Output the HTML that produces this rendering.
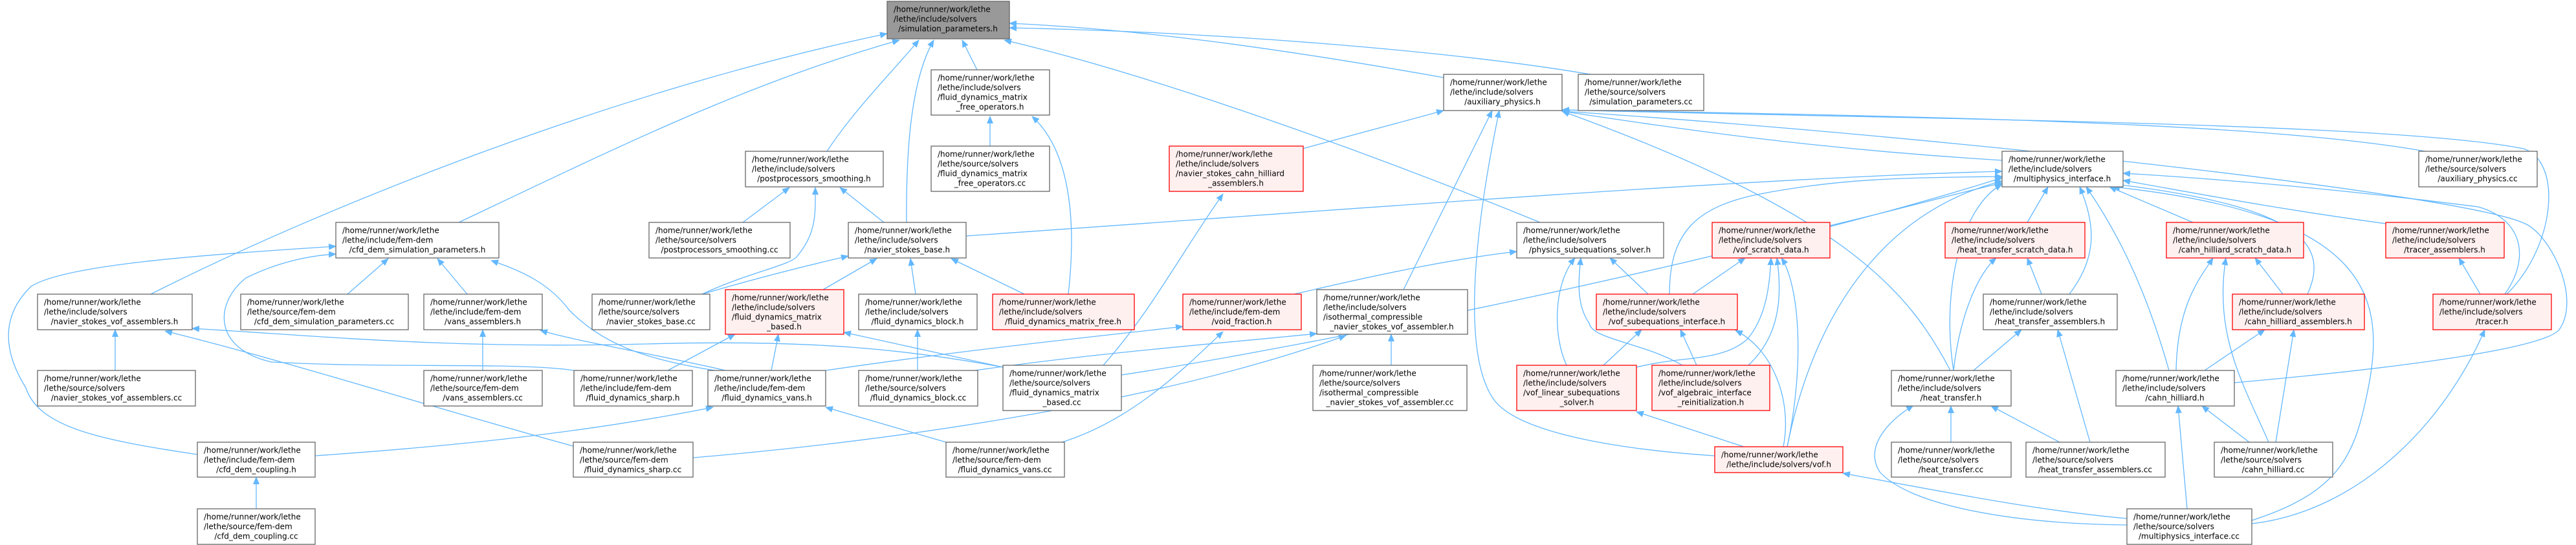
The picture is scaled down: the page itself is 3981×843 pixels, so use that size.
<!DOCTYPE html>
<html><head><meta charset="utf-8"><style>
html,body{margin:0;padding:0;background:#fff;}
svg{display:block;}
text{font-family:"DejaVu Sans","Liberation Sans",sans-serif;font-size:12px;fill:#000;transform:translateY(-1.5px);}
.n{fill:#fff;stroke:#666;stroke-width:1.3;}
.r{fill:#fff0f0;stroke:#ff0000;stroke-width:1.3;}
.g{fill:#999;stroke:#666;stroke-width:1.3;}
.e{fill:none;stroke:#63b8ff;stroke-width:1.3;marker-end:url(#a);}
</style></head><body>
<svg width="3981" height="843" viewBox="0 0 3981 843" xmlns="http://www.w3.org/2000/svg">
<defs><marker id="a" markerWidth="12" markerHeight="10" refX="11" refY="5" orient="auto" markerUnits="userSpaceOnUse"><path d="M0,0L12,5L0,10z" fill="#63b8ff"/></marker></defs>
<g>
<path class="e" d="M233,455 C500,320 950,140 1371,52"/>
<path class="e" d="M709,344 C950,230 1150,130 1390,62"/>
<path class="e" d="M1278,234 C1320,170 1380,110 1420,62"/>
<path class="e" d="M1401,344 C1400,220 1410,120 1443,62"/>
<path class="e" d="M1510,108 L1487,62"/>
<path class="e" d="M2231,120 C1950,70 1750,45 1560,36"/>
<path class="e" d="M2458,115 C2250,80 1900,50 1560,43"/>
<path class="e" d="M2380,344 C2150,250 1800,120 1552,62"/>
<path class="e" d="M1530,226 L1530,180"/>
<path class="e" d="M1651,455 C1665,330 1650,230 1595,180"/>
<path class="e" d="M1148,344 L1220,290"/>
<path class="e" d="M1366,344 L1298,290"/>
<path class="e" d="M1085,455 C1160,420 1225,410 1233,395 C1262,360 1260,330 1260,290"/>
<path class="e" d="M1085,455 C1170,430 1250,410 1311,396"/>
<path class="e" d="M1272,448 L1355,400"/>
<path class="e" d="M1415,455 L1407,400"/>
<path class="e" d="M1583,455 L1470,400"/>
<path class="e" d="M1493,365 C2000,330 2700,275 3094,265"/>
<path class="e" d="M1032,573 L1136,517"/>
<path class="e" d="M1192,573 L1203,517"/>
<path class="e" d="M1550,568 L1304,514"/>
<path class="e" d="M1418,573 L1418,510"/>
<path class="e" d="M1550,568 C1400,540 1250,525 1000,532 C700,540 500,520 297,508"/>
<path class="e" d="M886,690 C700,640 450,560 255,512"/>
<path class="e" d="M537,455 L600,400"/>
<path class="e" d="M722,455 L676,400"/>
<path class="e" d="M305,703 C150,680 60,660 40,600 C-10,520 20,470 48,443 C100,410 300,395 519,381"/>
<path class="e" d="M887,573 C800,560 600,570 420,560 C330,540 330,470 380,430 C430,405 480,395 519,393"/>
<path class="e" d="M1105,573 C990,555 930,530 880,480 C850,440 810,420 759,403"/>
<path class="e" d="M746,573 L746,510"/>
<path class="e" d="M1121,573 C1000,545 900,530 835,511"/>
<path class="e" d="M396,787 L396,738"/>
<path class="e" d="M487,705 C700,690 900,670 1102,630"/>
<path class="e" d="M1276,573 C1500,540 1700,520 1828,505"/>
<path class="e" d="M1641,684 C1750,650 1830,570 1890,513"/>
<path class="e" d="M1705,565 C1780,480 1820,400 1890,300"/>
<path class="e" d="M1462,684 L1276,630"/>
<path class="e" d="M1733,580 C2000,540 2700,400 3094,275"/>
<path class="e" d="M1507,573 C1700,545 1900,530 2035,516"/>
<path class="e" d="M1071,708 C1400,680 1800,620 2080,519"/>
<path class="e" d="M2000,455 C2150,420 2250,400 2344,389"/>
<path class="e" d="M2169,448 L2306,171"/>
<path class="e" d="M2150,565 L2150,517"/>
<path class="e" d="M2650,705 C2500,695 2350,670 2310,620 C2250,540 2290,300 2317,171"/>
<path class="e" d="M2421,565 C2400,520 2400,440 2434,399"/>
<path class="e" d="M2600,565 C2540,530 2460,525 2456,500 C2435,470 2440,430 2443,399"/>
<path class="e" d="M2547,455 L2488,399"/>
<path class="e" d="M2616,455 L2697,399"/>
<path class="e" d="M2478,565 L2537,510"/>
<path class="e" d="M2622,565 L2597,510"/>
<path class="e" d="M2756,691 C2770,620 2740,540 2682,511"/>
<path class="e" d="M2762,691 C2790,560 2780,440 2753,399"/>
<path class="e" d="M2529,568 C2600,550 2660,560 2700,525 C2730,490 2735,440 2737,399"/>
<path class="e" d="M2702,565 C2750,520 2755,460 2746,399"/>
<path class="e" d="M2695,691 L2529,637"/>
<path class="e" d="M2580,455 C2580,360 2620,320 2720,300 C2850,275 2950,275 3094,273"/>
<path class="e" d="M2828,349 C2950,320 3020,300 3094,283"/>
<path class="e" d="M3094,248 C2800,230 2600,200 2414,172"/>
<path class="e" d="M3748,234 C3500,190 3000,180 2414,170"/>
<path class="e" d="M3014,573 C2950,450 2850,330 2414,172"/>
<path class="e" d="M3874,455 C3950,380 3960,250 3900,230 C3700,190 3000,185 2414,170"/>
<path class="e" d="M3453,592 C3700,570 3930,540 3955,510 C3990,460 3940,360 3900,345 C3800,300 3000,210 2414,172"/>
<path class="e" d="M3133,344 L3165,289"/>
<path class="e" d="M3198,455 C3240,400 3240,350 3214,289"/>
<path class="e" d="M3352,573 C3320,460 3280,370 3224,289"/>
<path class="e" d="M3389,344 L3260,289"/>
<path class="e" d="M3566,455 C3600,380 3560,320 3270,285"/>
<path class="e" d="M3687,346 C3500,320 3400,300 3281,279"/>
<path class="e" d="M3871,455 C3910,400 3900,340 3830,320 C3600,290 3400,275 3281,268"/>
<path class="e" d="M3480,805 C3620,760 3640,700 3660,600 C3690,450 3650,330 3265,289"/>
<path class="e" d="M3019,573 C3000,450 3030,320 3094,285"/>
<path class="e" d="M3019,573 C3030,480 3060,420 3085,399"/>
<path class="e" d="M3155,455 L3133,399"/>
<path class="e" d="M3050,573 L3124,510"/>
<path class="e" d="M3015,684 L3015,628"/>
<path class="e" d="M3183,684 L3077,628"/>
<path class="e" d="M3230,684 L3180,510"/>
<path class="e" d="M3363,573 C3365,470 3400,430 3420,399"/>
<path class="e" d="M3506,684 C3470,600 3420,520 3440,399"/>
<path class="e" d="M3528,455 L3485,399"/>
<path class="e" d="M3407,573 L3500,510"/>
<path class="e" d="M3517,684 L3545,510"/>
<path class="e" d="M3476,684 L3403,628"/>
<path class="e" d="M3380,787 L3366,628"/>
<path class="e" d="M3833,455 L3800,399"/>
<path class="e" d="M3480,810 C3650,790 3780,650 3840,510"/>
<path class="e" d="M3287,802 C3150,790 3000,760 2848,732"/>
<path class="e" d="M3287,812 C3100,810 2950,780 2905,730 C2880,690 2920,650 2957,627"/>
<path class="e" d="M2013,230 L2231,171"/>
<path class="e" d="M2762,691 C2800,500 2900,330 3094,280"/>
<path class="e" d="M178,573 L178,510"/>
</g>

<rect class="g" x="1371" y="2" width="189" height="58"/>
<text x="1381" y="20">/home/runner/work/lethe</text><text x="1381" y="35">/lethe/include/solvers</text><text x="1465" y="50" text-anchor="middle">/simulation_parameters.h</text>

<rect class="n" x="58" y="455" width="239" height="55"/>
<text x="68" y="473">/home/runner/work/lethe</text><text x="68" y="488">/lethe/include/solvers</text><text x="177" y="503" text-anchor="middle">/navier_stokes_vof_assemblers.h</text>

<rect class="n" x="58" y="573" width="244" height="55"/>
<text x="68" y="591">/home/runner/work/lethe</text><text x="68" y="606">/lethe/source/solvers</text><text x="180" y="621" text-anchor="middle">/navier_stokes_vof_assemblers.cc</text>

<rect class="n" x="519" y="344" width="252" height="55"/>
<text x="529" y="362">/home/runner/work/lethe</text><text x="529" y="377">/lethe/include/fem-dem</text><text x="645" y="392" text-anchor="middle">/cfd_dem_simulation_parameters.h</text>

<rect class="n" x="372" y="455" width="259" height="55"/>
<text x="382" y="473">/home/runner/work/lethe</text><text x="382" y="488">/lethe/source/fem-dem</text><text x="501" y="503" text-anchor="middle">/cfd_dem_simulation_parameters.cc</text>

<rect class="n" x="655" y="455" width="183" height="55"/>
<text x="665" y="473">/home/runner/work/lethe</text><text x="665" y="488">/lethe/include/fem-dem</text><text x="746" y="503" text-anchor="middle">/vans_assemblers.h</text>

<rect class="n" x="655" y="573" width="183" height="55"/>
<text x="665" y="591">/home/runner/work/lethe</text><text x="665" y="606">/lethe/source/fem-dem</text><text x="746" y="621" text-anchor="middle">/vans_assemblers.cc</text>

<rect class="n" x="305" y="684" width="182" height="54"/>
<text x="315" y="702">/home/runner/work/lethe</text><text x="315" y="717">/lethe/include/fem-dem</text><text x="396" y="732" text-anchor="middle">/cfd_dem_coupling.h</text>

<rect class="n" x="305" y="787" width="182" height="55"/>
<text x="315" y="805">/home/runner/work/lethe</text><text x="315" y="820">/lethe/source/fem-dem</text><text x="396" y="835" text-anchor="middle">/cfd_dem_coupling.cc</text>

<rect class="n" x="915" y="455" width="182" height="55"/>
<text x="925" y="473">/home/runner/work/lethe</text><text x="925" y="488">/lethe/source/solvers</text><text x="1006" y="503" text-anchor="middle">/navier_stokes_base.cc</text>

<rect class="n" x="887" y="573" width="183" height="55"/>
<text x="897" y="591">/home/runner/work/lethe</text><text x="897" y="606">/lethe/include/fem-dem</text><text x="978" y="621" text-anchor="middle">/fluid_dynamics_sharp.h</text>

<rect class="n" x="886" y="684" width="185" height="54"/>
<text x="896" y="702">/home/runner/work/lethe</text><text x="896" y="717">/lethe/source/fem-dem</text><text x="978" y="732" text-anchor="middle">/fluid_dynamics_sharp.cc</text>

<rect class="n" x="1439" y="108" width="183" height="70"/>
<text x="1449" y="126">/home/runner/work/lethe</text><text x="1449" y="141">/lethe/include/solvers</text><text x="1449" y="156">/fluid_dynamics_matrix</text><text x="1530" y="171" text-anchor="middle">_free_operators.h</text>

<rect class="n" x="1439" y="226" width="183" height="70"/>
<text x="1449" y="244">/home/runner/work/lethe</text><text x="1449" y="259">/lethe/source/solvers</text><text x="1449" y="274">/fluid_dynamics_matrix</text><text x="1530" y="289" text-anchor="middle">_free_operators.cc</text>

<rect class="n" x="1152" y="234" width="213" height="55"/>
<text x="1162" y="252">/home/runner/work/lethe</text><text x="1162" y="267">/lethe/include/solvers</text><text x="1258" y="282" text-anchor="middle">/postprocessors_smoothing.h</text>

<rect class="n" x="1003" y="344" width="218" height="55"/>
<text x="1013" y="362">/home/runner/work/lethe</text><text x="1013" y="377">/lethe/source/solvers</text><text x="1112" y="392" text-anchor="middle">/postprocessors_smoothing.cc</text>

<rect class="n" x="1311" y="344" width="182" height="55"/>
<text x="1321" y="362">/home/runner/work/lethe</text><text x="1321" y="377">/lethe/include/solvers</text><text x="1402" y="392" text-anchor="middle">/navier_stokes_base.h</text>

<rect class="r" x="1121" y="448" width="183" height="69"/>
<text x="1131" y="466">/home/runner/work/lethe</text><text x="1131" y="481">/lethe/include/solvers</text><text x="1131" y="496">/fluid_dynamics_matrix</text><text x="1212" y="511" text-anchor="middle">_based.h</text>

<rect class="n" x="1327" y="455" width="183" height="55"/>
<text x="1337" y="473">/home/runner/work/lethe</text><text x="1337" y="488">/lethe/include/solvers</text><text x="1418" y="503" text-anchor="middle">/fluid_dynamics_block.h</text>

<rect class="r" x="1534" y="455" width="219" height="55"/>
<text x="1544" y="473">/home/runner/work/lethe</text><text x="1544" y="488">/lethe/include/solvers</text><text x="1643" y="503" text-anchor="middle">/fluid_dynamics_matrix_free.h</text>

<rect class="r" x="1807" y="226" width="207" height="70"/>
<text x="1817" y="244">/home/runner/work/lethe</text><text x="1817" y="259">/lethe/include/solvers</text><text x="1817" y="274">/navier_stokes_cahn_hilliard</text><text x="1910" y="289" text-anchor="middle">_assemblers.h</text>

<rect class="r" x="1828" y="455" width="183" height="55"/>
<text x="1838" y="473">/home/runner/work/lethe</text><text x="1838" y="488">/lethe/include/fem-dem</text><text x="1919" y="503" text-anchor="middle">/void_fraction.h</text>

<rect class="n" x="1094" y="573" width="182" height="55"/>
<text x="1104" y="591">/home/runner/work/lethe</text><text x="1104" y="606">/lethe/include/fem-dem</text><text x="1185" y="621" text-anchor="middle">/fluid_dynamics_vans.h</text>

<rect class="n" x="1327" y="573" width="184" height="55"/>
<text x="1337" y="591">/home/runner/work/lethe</text><text x="1337" y="606">/lethe/source/solvers</text><text x="1419" y="621" text-anchor="middle">/fluid_dynamics_block.cc</text>

<rect class="n" x="1550" y="565" width="183" height="70"/>
<text x="1560" y="583">/home/runner/work/lethe</text><text x="1560" y="598">/lethe/source/solvers</text><text x="1560" y="613">/fluid_dynamics_matrix</text><text x="1641" y="628" text-anchor="middle">_based.cc</text>

<rect class="n" x="1462" y="684" width="183" height="54"/>
<text x="1472" y="702">/home/runner/work/lethe</text><text x="1472" y="717">/lethe/source/fem-dem</text><text x="1553" y="732" text-anchor="middle">/fluid_dynamics_vans.cc</text>

<rect class="n" x="2231" y="115" width="183" height="56"/>
<text x="2241" y="133">/home/runner/work/lethe</text><text x="2241" y="148">/lethe/include/solvers</text><text x="2322" y="163" text-anchor="middle">/auxiliary_physics.h</text>

<rect class="n" x="2439" y="115" width="194" height="56"/>
<text x="2449" y="133">/home/runner/work/lethe</text><text x="2449" y="148">/lethe/source/solvers</text><text x="2536" y="163" text-anchor="middle">/simulation_parameters.cc</text>

<rect class="n" x="2344" y="344" width="227" height="55"/>
<text x="2354" y="362">/home/runner/work/lethe</text><text x="2354" y="377">/lethe/include/solvers</text><text x="2457" y="392" text-anchor="middle">/physics_subequations_solver.h</text>

<rect class="r" x="2646" y="344" width="182" height="55"/>
<text x="2656" y="362">/home/runner/work/lethe</text><text x="2656" y="377">/lethe/include/solvers</text><text x="2737" y="392" text-anchor="middle">/vof_scratch_data.h</text>

<rect class="n" x="2035" y="448" width="233" height="69"/>
<text x="2045" y="466">/home/runner/work/lethe</text><text x="2045" y="481">/lethe/include/solvers</text><text x="2045" y="496">/isothermal_compressible</text><text x="2151" y="511" text-anchor="middle">_navier_stokes_vof_assembler.h</text>

<rect class="n" x="2029" y="565" width="238" height="70"/>
<text x="2039" y="583">/home/runner/work/lethe</text><text x="2039" y="598">/lethe/source/solvers</text><text x="2039" y="613">/isothermal_compressible</text><text x="2148" y="628" text-anchor="middle">_navier_stokes_vof_assembler.cc</text>

<rect class="r" x="2467" y="455" width="218" height="55"/>
<text x="2477" y="473">/home/runner/work/lethe</text><text x="2477" y="488">/lethe/include/solvers</text><text x="2576" y="503" text-anchor="middle">/vof_subequations_interface.h</text>

<rect class="r" x="2344" y="565" width="185" height="70"/>
<text x="2354" y="583">/home/runner/work/lethe</text><text x="2354" y="598">/lethe/include/solvers</text><text x="2354" y="613">/vof_linear_subequations</text><text x="2437" y="628" text-anchor="middle">_solver.h</text>

<rect class="r" x="2553" y="565" width="182" height="70"/>
<text x="2563" y="583">/home/runner/work/lethe</text><text x="2563" y="598">/lethe/include/solvers</text><text x="2563" y="613">/vof_algebraic_interface</text><text x="2644" y="628" text-anchor="middle">_reinitialization.h</text>

<rect class="r" x="2650" y="691" width="198" height="40"/>
<text x="2660" y="709">/home/runner/work/lethe</text><text x="2749" y="724" text-anchor="middle">/lethe/include/solvers/vof.h</text>

<rect class="n" x="2923" y="573" width="185" height="55"/>
<text x="2933" y="591">/home/runner/work/lethe</text><text x="2933" y="606">/lethe/include/solvers</text><text x="3015" y="621" text-anchor="middle">/heat_transfer.h</text>

<rect class="n" x="2923" y="684" width="185" height="54"/>
<text x="2933" y="702">/home/runner/work/lethe</text><text x="2933" y="717">/lethe/source/solvers</text><text x="3015" y="732" text-anchor="middle">/heat_transfer.cc</text>

<rect class="n" x="3094" y="234" width="187" height="55"/>
<text x="3104" y="252">/home/runner/work/lethe</text><text x="3104" y="267">/lethe/include/solvers</text><text x="3187" y="282" text-anchor="middle">/multiphysics_interface.h</text>

<rect class="n" x="3738" y="234" width="183" height="55"/>
<text x="3748" y="252">/home/runner/work/lethe</text><text x="3748" y="267">/lethe/source/solvers</text><text x="3829" y="282" text-anchor="middle">/auxiliary_physics.cc</text>

<rect class="r" x="3006" y="344" width="216" height="55"/>
<text x="3016" y="362">/home/runner/work/lethe</text><text x="3016" y="377">/lethe/include/solvers</text><text x="3114" y="392" text-anchor="middle">/heat_transfer_scratch_data.h</text>

<rect class="r" x="3348" y="344" width="212" height="55"/>
<text x="3358" y="362">/home/runner/work/lethe</text><text x="3358" y="377">/lethe/include/solvers</text><text x="3454" y="392" text-anchor="middle">/cahn_hilliard_scratch_data.h</text>

<rect class="r" x="3687" y="344" width="183" height="55"/>
<text x="3697" y="362">/home/runner/work/lethe</text><text x="3697" y="377">/lethe/include/solvers</text><text x="3778" y="392" text-anchor="middle">/tracer_assemblers.h</text>

<rect class="n" x="3065" y="455" width="207" height="55"/>
<text x="3075" y="473">/home/runner/work/lethe</text><text x="3075" y="488">/lethe/include/solvers</text><text x="3168" y="503" text-anchor="middle">/heat_transfer_assemblers.h</text>

<rect class="r" x="3450" y="455" width="204" height="55"/>
<text x="3460" y="473">/home/runner/work/lethe</text><text x="3460" y="488">/lethe/include/solvers</text><text x="3552" y="503" text-anchor="middle">/cahn_hilliard_assemblers.h</text>

<rect class="r" x="3760" y="455" width="183" height="55"/>
<text x="3770" y="473">/home/runner/work/lethe</text><text x="3770" y="488">/lethe/include/solvers</text><text x="3851" y="503" text-anchor="middle">/tracer.h</text>

<rect class="n" x="3270" y="573" width="183" height="55"/>
<text x="3280" y="591">/home/runner/work/lethe</text><text x="3280" y="606">/lethe/include/solvers</text><text x="3361" y="621" text-anchor="middle">/cahn_hilliard.h</text>

<rect class="n" x="3131" y="684" width="215" height="54"/>
<text x="3141" y="702">/home/runner/work/lethe</text><text x="3141" y="717">/lethe/source/solvers</text><text x="3238" y="732" text-anchor="middle">/heat_transfer_assemblers.cc</text>

<rect class="n" x="3422" y="684" width="183" height="54"/>
<text x="3432" y="702">/home/runner/work/lethe</text><text x="3432" y="717">/lethe/source/solvers</text><text x="3513" y="732" text-anchor="middle">/cahn_hilliard.cc</text>

<rect class="n" x="3287" y="787" width="193" height="55"/>
<text x="3297" y="805">/home/runner/work/lethe</text><text x="3297" y="820">/lethe/source/solvers</text><text x="3383" y="835" text-anchor="middle">/multiphysics_interface.cc</text>
</svg>
</body></html>
